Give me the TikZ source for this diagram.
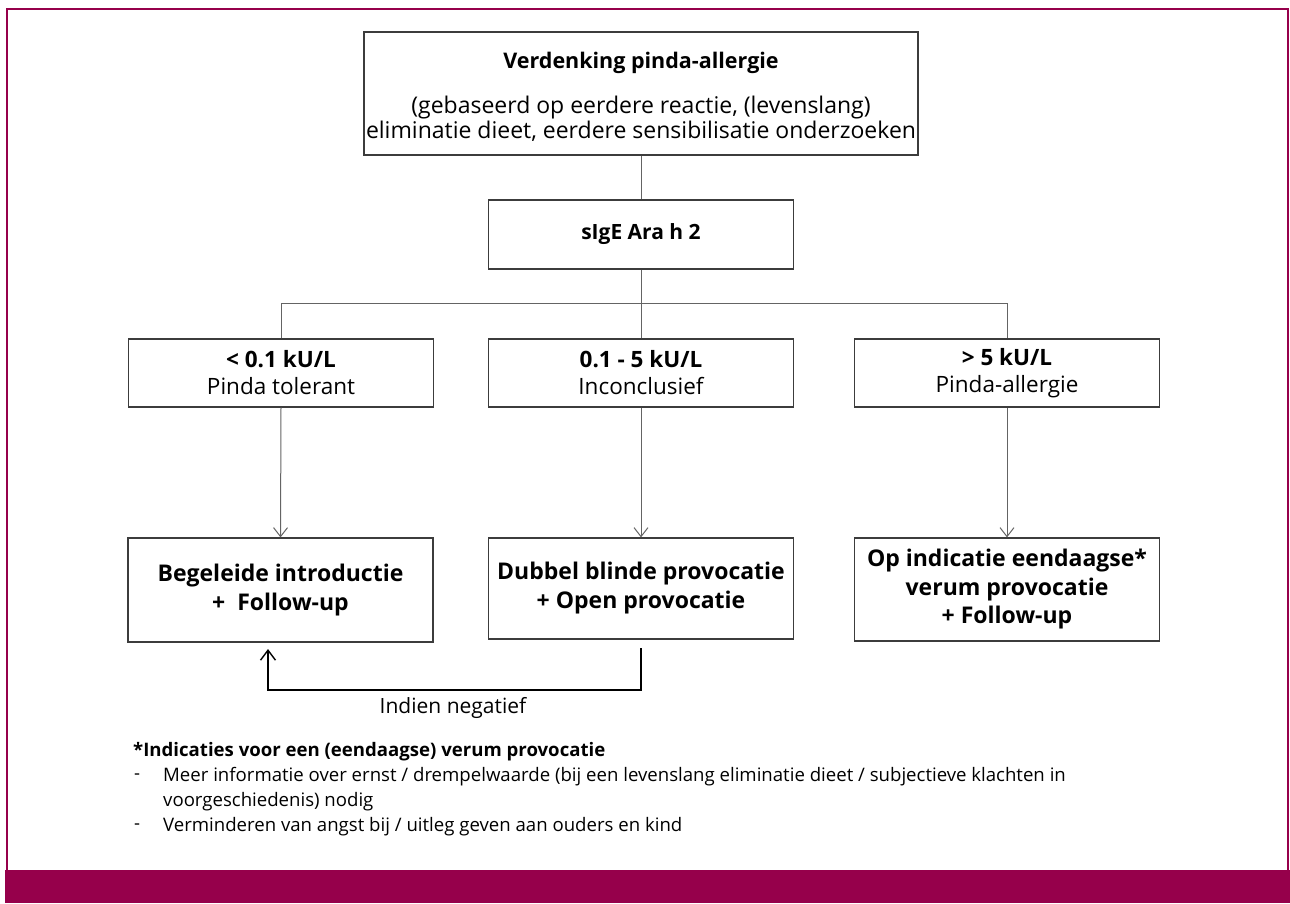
\documentclass[tikz,border=0pt]{standalone}
\usepackage{fontspec}
\setmainfont{Open Sans}
\usetikzlibrary{arrows.meta}
\definecolor{brand}{RGB}{150,0,75}
\definecolor{boxline}{RGB}{60,60,60}
\definecolor{conn}{RGB}{100,100,100}
\tikzset{
  box/.style={draw=boxline, line width=1.2pt, fill=white, minimum width=305pt, inner sep=0pt, align=center},
  conn/.style={draw=conn, line width=1pt},
  arr/.style={draw=conn, line width=1pt, -{Straight Barb[length=9pt,width=14pt,line width=1pt]}},
  fbarr/.style={draw=black, line width=1.4pt, -{Straight Barb[length=10pt,width=15pt,line width=1.4pt]}},
  note/.style={anchor=west, inner sep=0pt, font=\fontsize{18.6}{24}\selectfont}
}
\begin{document}
\begin{tikzpicture}[x=1pt,y=-1pt]
\useasboundingbox (0,0) rectangle (1290,903);
\fill[white] (0,0) rectangle (1290,903);
\draw[brand, line width=2.5pt] (7,9) rectangle (1288,871);
\fill[brand] (5,870) rectangle (1290,903);

% top box
\node[box, minimum width=554pt, minimum height=123pt, font=\fontsize{23}{25}\selectfont] (top) at (641,93.5)
  {\rule{0pt}{23pt}\textbf{\fontsize{21.5}{25}\selectfont Verdenking pinda-allergie}\\[20pt]
   (gebaseerd op eerdere reactie, (levenslang)\\
   eliminatie dieet, eerdere sensibilisatie onderzoeken};

\node[box, minimum height=69pt, font=\fontsize{21}{25}\selectfont\bfseries] (sig) at (641,234.5) {sIgE Ara h 2};

\node[box, minimum height=68pt, font=\fontsize{22.5}{27}\selectfont] (l1) at (281,373)
  {\textbf{< 0.1 kU/L}\\ Pinda tolerant};
\node[box, minimum height=68pt, font=\fontsize{22.5}{27}\selectfont] (l2) at (641,373)
  {\textbf{0.1 - 5 kU/L}\\ Inconclusief};
\node[box, minimum height=68pt, font=\fontsize{22.5}{27}\selectfont] (l3) at (1007,373)
  {\textbf{> 5 kU/L}\\ Pinda-allergie};

\node[box, minimum height=104pt, font=\fontsize{23}{29.5}\selectfont\bfseries] (b1) at (280.5,590)
  {Begeleide introductie\\ +\ \ Follow-up};
\node[box, minimum height=101pt, font=\fontsize{23}{29}\selectfont\bfseries] (b2) at (641,588.5)
  {Dubbel blinde provocatie\\ + Open provocatie};
\node[box, minimum height=103pt, font=\fontsize{23}{28.5}\selectfont\bfseries] (b3) at (1007,589.5)
  {Op indicatie eendaagse*\\ verum provocatie\\ + Follow-up};

% connectors
\draw[conn] (top.south) -- (sig.north);
\draw[conn] (sig.south) -- (l2.north);
\draw[conn] (l1.north) -- ++(0,-35) -| (l3.north);
\draw[arr] (l1.south) -- (b1.north);
\draw[arr] (l2.south) -- (b2.north);
\draw[arr] (l3.south) -- (b3.north);

% feedback
\coordinate (fbs) at (641,648);
\coordinate (fbe) at (268,649);
\draw[fbarr] (fbs) -- ++(0,42) -| (fbe);
\node[font=\fontsize{21}{24}\selectfont, inner sep=0pt] (neg) at (453,708) {Indien negatief};

% footnote
\node[note, font=\fontsize{18.6}{24}\selectfont\bfseries] (nh) at (133,752) {*Indicaties voor een (eendaagse) verum provocatie};
\node[note] (d1) at (134,777) {-};
\node[note] (t1) at (163,777) {Meer informatie over ernst / drempelwaarde (bij een levenslang eliminatie dieet / subjectieve klachten in};
\node[note] (t1b) at (163,802) {voorgeschiedenis) nodig};
\node[note] (d2) at (134,827) {-};
\node[note] (t2) at (163,827) {Verminderen van angst bij / uitleg geven aan ouders en kind};
\end{tikzpicture}
\end{document}
